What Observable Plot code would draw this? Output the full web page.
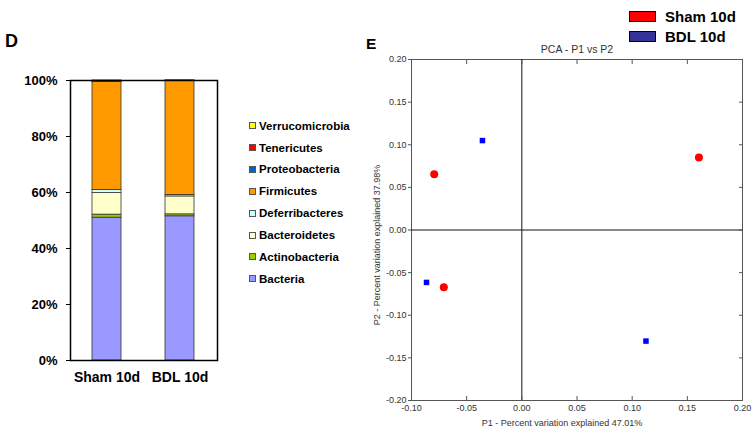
<!DOCTYPE html>
<html>
<head>
<meta charset="utf-8">
<script src="https://cdn.jsdelivr.net/npm/d3@7"></script>
<script src="https://cdn.jsdelivr.net/npm/@observablehq/plot@0.6"></script>
<style>
  html, body { margin: 0; padding: 0; background: #fff; }
  #root { position: relative; width: 756px; height: 432px; overflow: hidden; background: #fff;
          font-family: "Liberation Sans", Arial, Helvetica, sans-serif; }
  .abs { position: absolute; }
  .panel-label { font-weight: bold; color: #000; line-height: 1; }
  .legD { position: absolute; left: 249px; font-weight: bold; font-size: 11.5px; color: #000; }
  .legD .row { height: 21.9px; display: flex; align-items: center; white-space: nowrap; }
  .legD .sw { width: 5px; height: 5px; border: 1px solid #555; margin-right: 3px; flex: none; }
  .legE { position: absolute; left: 629px; top: 6px; font-weight: bold; font-size: 15px; color: #000; }
  .legE .row { height: 20px; display: flex; align-items: center; white-space: nowrap; }
  .legE .sw { width: 25px; height: 9px; border: 1.5px solid #000; margin-right: 9px; flex: none; }
</style>
</head>
<body>
<div id="root"></div>
<script>
// ---------- Panel D data ----------
const groups = ["Sham 10d", "BDL 10d"];
const phyla = ["Bacteria", "Actinobacteria", "Bacteroidetes", "Deferribacteres",
               "Firmicutes", "Proteobacteria", "Tenericutes", "Verrucomicrobia"];
const phylaColors = ["#9999FF", "#99CC00", "#FFFFCC", "#CCFFFF",
                     "#FF9900", "#0066CC", "#FF0000", "#FFFF00"];
const shamValues = [51.0, 1.1, 7.7, 1.1, 38.6, 0.1, 0.3, 0.1];
const bdlValues  = [51.5, 0.7, 6.4, 0.5, 40.8, 0.05, 0.03, 0.02];
const percentTicks = [0, 20, 40, 60, 80, 100];

// ---------- Panel E data ----------
const pcaGroups = ["Sham 10d", "BDL 10d"];
const pcaColors = ["#FF0000", "#0000FF"];
const pcaLegendColors = ["#FF0000", "#333399"];
const shamP1 = [-0.0794, 0.1605, -0.0707];
const shamP2 = [0.0653, 0.0849, -0.0673];
const bdlP1  = [-0.0357, -0.0864, 0.1125];
const bdlP2  = [0.1049, -0.0615, -0.1303];
const p1Ticks = [-0.10, -0.05, 0.00, 0.05, 0.10, 0.15, 0.20];
const p2Ticks = [-0.20, -0.15, -0.10, -0.05, 0.00, 0.05, 0.10, 0.15, 0.20];
const pcaTitle = "PCA - P1 vs P2";
const p1Label = "P1 - Percent variation explained 47.01%";
const p2Label = "P2 - Percent variation explained 37.98%";

const root = document.getElementById("root");
const font = '"Liberation Sans", Arial, Helvetica, sans-serif';

// ---------- Panel D ----------
const barData = [];
groups.forEach((g, gi) => {
  const vals = gi === 0 ? shamValues : bdlValues;
  phyla.forEach((p, i) => barData.push({group: g, phylum: p, value: vals[i]}));
});

const plotD = Plot.plot({
  width: 240, height: 432,
  marginLeft: 70, marginRight: 23, marginTop: 80, marginBottom: 72,
  style: {fontFamily: font, background: "transparent", color: "#000", overflow: "visible"},
  x: {domain: groups, paddingInner: 0.6, paddingOuter: 0.3, label: null},
  y: {domain: [0, 100], label: null},
  color: {domain: phyla, range: phylaColors},
  marks: [
    Plot.barY(barData, {x: "group", y: "value", fill: "phylum", order: phyla,
                        stroke: "#333", strokeWidth: 0.8}),
    Plot.frame({stroke: "#000", strokeWidth: 1.5}),
    Plot.axisY({ticks: percentTicks, tickFormat: d => d + "%", tickSize: 4, tickPadding: 9,
                fontSize: 13, fontWeight: "bold", label: null}),
    Plot.axisX({tickSize: 0, tickPadding: 12, fontSize: 14, fontWeight: "bold", label: null})
  ]
});
plotD.classList.add("abs");
plotD.style.left = "0px";
plotD.style.top = "0px";
root.appendChild(plotD);

const labD = document.createElement("div");
labD.className = "abs panel-label";
labD.style.cssText = "left:5px;top:32px;font-size:18px;";
labD.textContent = "D";
root.appendChild(labD);

const legD = document.createElement("div");
legD.className = "legD";
legD.style.top = "114.7px";
phyla.slice().reverse().forEach(p => {
  const row = document.createElement("div");
  row.className = "row";
  const sw = document.createElement("span");
  sw.className = "sw";
  sw.style.background = phylaColors[phyla.indexOf(p)];
  const tx = document.createElement("span");
  tx.textContent = p;
  row.appendChild(sw); row.appendChild(tx);
  legD.appendChild(row);
});
root.appendChild(legD);

// ---------- Panel E ----------
const pts = [];
shamP1.forEach((v, i) => pts.push({group: pcaGroups[0], p1: v, p2: shamP2[i]}));
bdlP1.forEach((v, i) => pts.push({group: pcaGroups[1], p1: v, p2: bdlP2[i]}));
const fmt = d => d.toFixed(2);

const plotE = Plot.plot({
  width: 396, height: 432,
  marginLeft: 51, marginRight: 14, marginTop: 59, marginBottom: 32,
  style: {fontFamily: font, background: "transparent", color: "#333", overflow: "visible"},
  x: {domain: [-0.10, 0.20], label: null},
  y: {domain: [-0.20, 0.20], label: null},
  marks: [
    Plot.frame({stroke: "#555", strokeWidth: 1}),
    Plot.ruleX([0], {stroke: "#111", strokeWidth: 1}),
    Plot.ruleY([0], {stroke: "#111", strokeWidth: 1}),
    Plot.axisY({anchor: "left", ticks: p2Ticks, tickFormat: fmt, tickSize: 3, tickPadding: 2,
                fontSize: 9, label: null, stroke: "#555"}),
    Plot.axisY({anchor: "right", ticks: p2Ticks, tickFormat: () => "", tickSize: -4, label: null, stroke: "#555"}),
    Plot.axisX({anchor: "bottom", ticks: p1Ticks, tickFormat: fmt, tickSize: -4, tickPadding: 8,
                fontSize: 9, label: null, stroke: "#555"}),
    Plot.axisX({anchor: "top", ticks: p1Ticks, tickFormat: () => "", tickSize: -4, label: null, stroke: "#555"}),
    Plot.text([pcaTitle], {frameAnchor: "top", lineAnchor: "middle", textAnchor: "middle",
                           dy: -10, fontSize: 10.5, fill: "#333"}),
    Plot.text([p1Label], {frameAnchor: "bottom", lineAnchor: "middle", textAnchor: "middle",
                          dy: 22.7, dx: -15, fontSize: 9, fill: "#333"}),
    Plot.text([p2Label], {frameAnchor: "left", lineAnchor: "middle", textAnchor: "middle",
                          rotate: -90, dx: -34.3, dy: 15, fontSize: 9, fill: "#333"}),
    Plot.dot(pts.filter(d => d.group === pcaGroups[0]),
             {x: "p1", y: "p2", r: 4, symbol: "circle", fill: pcaColors[0], stroke: null}),
    Plot.dot(pts.filter(d => d.group === pcaGroups[1]),
             {x: "p1", y: "p2", r: 3.1, symbol: "square", fill: pcaColors[1], stroke: null})
  ]
});
plotE.classList.add("abs");
plotE.style.left = "360px";
plotE.style.top = "0px";
root.appendChild(plotE);

const labE = document.createElement("div");
labE.className = "abs panel-label";
labE.style.cssText = "left:366px;top:36px;font-size:15.5px;";
labE.textContent = "E";
root.appendChild(labE);

const legE = document.createElement("div");
legE.className = "legE";
pcaGroups.forEach((g, i) => {
  const row = document.createElement("div");
  row.className = "row";
  const sw = document.createElement("span");
  sw.className = "sw";
  sw.style.background = pcaLegendColors[i];
  const tx = document.createElement("span");
  tx.textContent = g;
  row.appendChild(sw); row.appendChild(tx);
  legE.appendChild(row);
});
root.appendChild(legE);
</script>
</body>
</html>
